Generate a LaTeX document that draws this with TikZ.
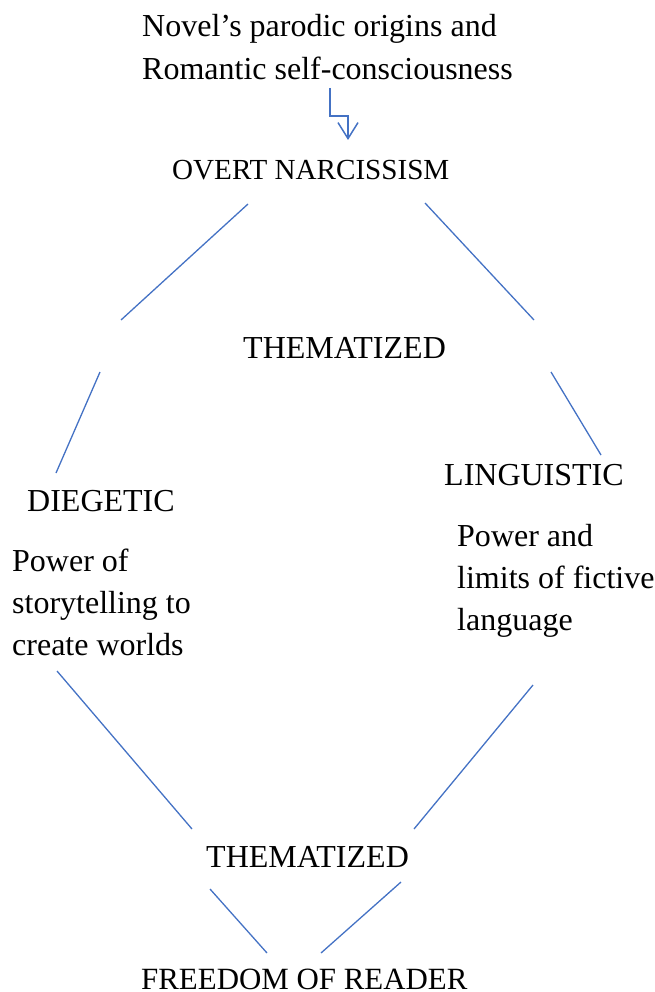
\documentclass[tikz,border=0pt]{standalone}
\usepackage{fontspec}
\setmainfont{Liberation Serif}
\usetikzlibrary{arrows.meta}
\definecolor{linkblue}{HTML}{4472C4}
\begin{document}
\begin{tikzpicture}[x=1pt,y=-1pt,
  lbl/.style={anchor=base west,inner sep=0pt,font=\fontsize{32}{42}\selectfont},
  small/.style={lbl,font=\fontsize{29.1}{40}\selectfont},
  mid/.style={lbl,font=\fontsize{30.9}{40}\selectfont},
  link/.style={draw=linkblue,line width=1.3pt}]
\useasboundingbox (0,0) rectangle (654,992);
% texts
\node[lbl] (src1) at (142,37) {Novel’s parodic origins and};
\node[lbl] (src2) at (142,80) {Romantic self-consciousness};
\node[small] (overt) at (172,180) {OVERT NARCISSISM};
\node[lbl] (them1) at (243,358) {THEMATIZED};
\node[lbl] (ling) at (444,485) {LINGUISTIC};
\node[lbl] (dieg) at (27,511) {DIEGETIC};
\node[lbl] (dl1) at (12,571) {Power of};
\node[lbl] (dl2) at (12,613) {storytelling to};
\node[lbl] (dl3) at (12,655) {create worlds};
\node[lbl] (ll1) at (457,546) {Power and};
\node[lbl] (ll2) at (457,588) {limits of fictive};
\node[lbl] (ll3) at (457,630) {language};
\node[lbl] (them2) at (206,867) {THEMATIZED};
\node[mid] (free) at (141,989) {FREEDOM OF READER};
% connector end points
\coordinate (a1) at (330,88);
\coordinate (a2) at (348,140);
\coordinate (p1) at (248,204);  \coordinate (p2) at (121,320);
\coordinate (p3) at (100,372);  \coordinate (p4) at (56,473);
\coordinate (q1) at (425,203);  \coordinate (q2) at (534,320);
\coordinate (q3) at (551,372);  \coordinate (q4) at (601,455);
\coordinate (r1) at (57,671);   \coordinate (r2) at (192,829);
\coordinate (s1) at (533,685);  \coordinate (s2) at (414,829);
\coordinate (t1) at (210,889);  \coordinate (t2) at (267,953);
\coordinate (u1) at (401,882);  \coordinate (u2) at (321,953);
% connectors
\draw[link,-{Straight Barb[length=16pt,width=20pt,line width=1.5pt]}] (a1) |- (339,116) -| (a2);
\draw[link] (p1) -- (p2);
\draw[link] (p3) -- (p4);
\draw[link] (q1) -- (q2);
\draw[link] (q3) -- (q4);
\draw[link] (r1) -- (r2);
\draw[link] (s1) -- (s2);
\draw[link] (t1) -- (t2);
\draw[link] (u1) -- (u2);
\end{tikzpicture}
\end{document}
